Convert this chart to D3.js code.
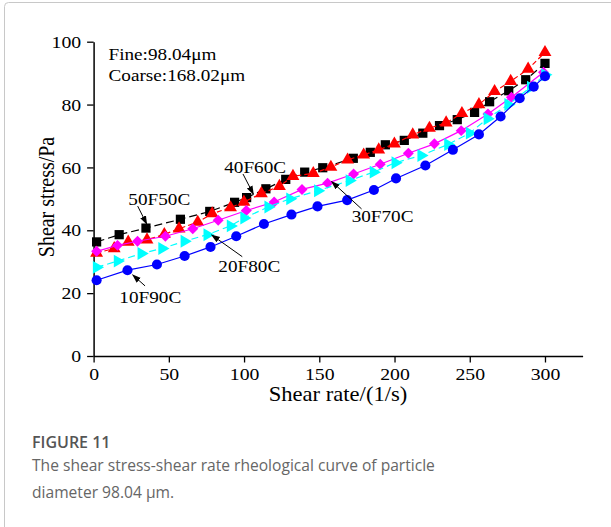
<!DOCTYPE html>
<html lang="en">
<head>
<meta charset="UTF-8">
<title>Shear stress - shear rate curve</title>
<script src="https://cdn.jsdelivr.net/npm/d3@7"></script>
<style>
  body{margin:0;background:#fff;}
  .serif{font-family:"Liberation Serif","Times New Roman",serif;fill:#000;}
  .caption{font-family:"Open Sans",sans-serif;fill:#666;}
</style>
</head>
<body>
<svg id="main" width="611" height="527"></svg>
<script>
    // data
    const shear50 = [2, 17, 34.8, 57.7, 77.2, 93.7, 101.7, 114.5, 127.7, 140.3, 152.3, 172.6, 183.9, 193.9, 206.5, 218.8, 229.9, 241.7, 253.2, 263.2, 275.9, 287.2, 300];
    const stress50 = [36.3, 38.6, 40.7, 43.5, 46.0, 48.9, 50.4, 53.2, 56.2, 58.5, 59.9, 62.9, 64.8, 67.2, 68.6, 70.9, 73.3, 75.2, 77.5, 80.9, 84.4, 87.9, 93.1];
    const shear40 = [2, 13.7, 23, 35.5, 47, 56.8, 69.2, 78.8, 91, 99.9, 111.5, 123.5, 132.5, 146, 157.7, 168.8, 179.5, 189.5, 199.9, 212.1, 223.2, 234.3, 244.8, 256.1, 266.5, 277.2, 288.8, 300];
    const stress40 = [32.8, 34.2, 36.3, 37.0, 38.7, 40.5, 42.6, 45.3, 47.2, 49.0, 51.7, 54.0, 57.2, 58.1, 60.1, 62.4, 64.0, 65.6, 67.5, 70.4, 72.5, 74.2, 77.2, 80.0, 84.2, 87.4, 91.3, 96.6];
    const shear30 = [2, 15.9, 29.2, 47.7, 65.9, 82.8, 101.5, 120, 138.5, 155.5, 172.8, 190.5, 209.2, 226.5, 244.3, 262.1, 277.7, 299];
    const stress30 = [33.3, 35.2, 36.5, 38.1, 40.5, 43.2, 46.3, 49.0, 53.0, 55.0, 57.9, 61.0, 64.5, 67.5, 71.7, 77.0, 82.3, 90.3];
    const shear20 = [2, 15.9, 31.7, 45.5, 60.3, 75.5, 91, 100, 116, 130.5, 149, 170, 186, 200.5, 217.7, 235.5, 249.9, 261.7, 275.5, 290.5, 300];
    const stress20 = [28.2, 30.2, 32.6, 34.2, 36.5, 38.6, 41.4, 43.9, 47.4, 50.0, 52.6, 55.8, 58.5, 61.5, 63.8, 67.3, 70.9, 75.5, 80.0, 85.5, 89.5];
    const shear10 = [2, 22.5, 42.1, 60.5, 77.7, 94.8, 113.2, 131.5, 148.8, 168.5, 186.3, 201, 220.5, 238.8, 256.1, 270.5, 283.2, 292.5, 300];
    const stress10 = [24.1, 27.3, 29.1, 31.8, 34.7, 38.1, 42.0, 45.0, 47.6, 49.6, 52.8, 56.5, 60.6, 65.6, 70.5, 76.2, 82.0, 85.7, 89.0];

    const seriesNames = ['50F50C', '40F60C', '30F70C', '20F80C', '10F90C'];
    const xTicks = [0, 50, 100, 150, 200, 250, 300];
    const yTicks = [0, 20, 40, 60, 80, 100];

    // label text position and arrow (from -> to), in data units
    const notes = [
        {t:'50F50C', x:23.1, y:48.0, ax:29.3, ay:47.7, bx:35.3, by:42.0},
        {t:'40F60C', x:86.8, y:58.3, ax:99.3, ay:57.9, bx:106.2, by:51.5},
        {t:'30F70C', x:171.5, y:42.7, ax:178.1, ay:46.8, bx:158.2, by:55.5},
        {t:'20F80C', x:82.9, y:26.8, ax:98.8, ay:31.6, bx:78.5, by:38.5},
        {t:'10F90C', x:17.1, y:16.8, ax:34.2, ay:22.3, bx:26.0, by:25.8}
    ];

    let svg = d3.select('svg#main');
    const sx = 1.13; // the figure's type is a little wide

    // page frame
    svg.append('rect').attr('x', 4.5).attr('y', 2.5).attr('width', 700).attr('height', 700)
        .attr('rx', 4).style('fill', 'none').style('stroke', '#c8c8c8');

    let xScale = d3.scaleLinear().domain([0, 325]).range([93.6, 582.6]);
    let yScale = d3.scaleLinear().domain([0, 100]).range([356, 41.7]);

    function txt(g, x, y, s, size, anchor){
        return g.append('text').attr('class', 'serif')
            .attr('transform', 'translate(' + x + ',' + y + ') scale(' + sx + ',1)')
            .attr('text-anchor', anchor || 'start')
            .style('font-size', size + 'px')
            .text(s);
    }

    // axes
    let xAxis = svg.append('g').attr('transform', 'translate(0,356)');
    xAxis.call(d3.axisBottom(xScale).tickValues(d3.range(25, 326, 50)).tickSize(3.5).tickSizeOuter(0).tickFormat(''));
    xAxis.call(d3.axisBottom(xScale).tickValues(xTicks).tickSize(6.5).tickSizeOuter(0));
    let yAxis = svg.append('g').attr('transform', 'translate(93.6,0)');
    yAxis.call(d3.axisLeft(yScale).tickValues(d3.range(10, 100, 20)).tickSize(3.5).tickSizeOuter(0).tickFormat(''));
    yAxis.call(d3.axisLeft(yScale).tickValues(yTicks).tickSize(6.5).tickSizeOuter(0));
    svg.selectAll('.domain').style('stroke', '#000').style('stroke-width', 1.5);
    svg.selectAll('.tick line').style('stroke', '#000').style('stroke-width', 1.3);
    xAxis.selectAll('text').attr('class', 'serif').attr('dy', 0).attr('y', 24)
        .attr('transform', 'scale(' + sx + ',1)').style('font-size', '17.5px').attr('font-family', null);
    yAxis.selectAll('text').attr('class', 'serif').attr('x', -11)
        .attr('transform', 'scale(' + sx + ',1)').style('font-size', '17.5px').attr('font-family', null);

    // axis titles
    txt(svg, 338, 401, 'Shear rate/(1/s)', 20, 'middle');
    svg.append('text').attr('class', 'serif')
        .attr('transform', 'translate(54,197) rotate(-90) scale(1,' + sx + ')')
        .attr('text-anchor', 'middle').style('font-size', '20px')
        .text('Shear stress/Pa');

    // series
    let series = [
        {x:shear50, y:stress50, color:'#000000', dash:'8,4', sym:d3.symbolSquare, size:85, rot:0},
        {x:shear40, y:stress40, color:'#ff0000', dash:'5,3', sym:d3.symbolTriangle, size:72, rot:0},
        {x:shear30, y:stress30, color:'#ff00ff', dash:null, sym:d3.symbolSquare, size:60, rot:45},
        {x:shear20, y:stress20, color:'#00ffff', dash:'7,4', sym:d3.symbolTriangle, size:72, rot:90},
        {x:shear10, y:stress10, color:'#0000ff', dash:null, sym:d3.symbolCircle, size:80, rot:0}
    ];
    let line = d3.line().x(function(d){return xScale(d[0]);}).y(function(d){return yScale(d[1]);});

    series.forEach(function(s, i){
        let pts = d3.zip(s.x, s.y);
        let g = svg.append('g').attr('class', 'series').attr('data-name', seriesNames[i]);
        g.append('path').datum(pts).attr('d', line)
            .style('fill', 'none').style('stroke', s.color).style('stroke-width', 1.2)
            .style('stroke-dasharray', s.dash);
        g.selectAll('path.mk').data(pts).enter().append('path').attr('class', 'mk')
            .attr('d', d3.symbol().type(s.sym).size(s.size))
            .attr('transform', function(d){return 'translate(' + xScale(d[0]) + ',' + yScale(d[1]) + ') rotate(' + s.rot + ')';})
            .style('fill', s.color);
    });

    // arrow labels
    svg.append('defs').append('marker').attr('id', 'arr')
        .attr('viewBox', '0 0 10 10').attr('refX', 9).attr('refY', 5)
        .attr('markerWidth', 9).attr('markerHeight', 9).attr('markerUnits', 'userSpaceOnUse')
        .attr('orient', 'auto')
        .append('path').attr('d', 'M0,1.5 L10,5 L0,8.5 Z').style('fill', '#000');

    notes.forEach(function(n){
        svg.append('line')
            .attr('x1', xScale(n.ax)).attr('y1', yScale(n.ay))
            .attr('x2', xScale(n.bx)).attr('y2', yScale(n.by))
            .style('stroke', '#000').style('stroke-width', 1)
            .attr('marker-end', 'url(#arr)');
        txt(svg, xScale(n.x), yScale(n.y), n.t, 17);
    });

    txt(svg, xScale(9.9), 60, 'Fine:98.04\u03bcm', 17);
    txt(svg, xScale(9.9), 80.7, 'Coarse:168.02\u03bcm', 17);

    // caption
    svg.append('text').attr('class', 'caption').attr('x', 32).attr('y', 448)
        .style('font-size', '16px').style('font-weight', 600).style('fill', '#555')
        .text('FIGURE 11');
    svg.append('text').attr('class', 'caption').attr('x', 32).attr('y', 471)
        .style('font-size', '15.6px')
        .text('The shear stress-shear rate rheological curve of particle');
    svg.append('text').attr('class', 'caption').attr('x', 32).attr('y', 498)
        .style('font-size', '15.6px')
        .text('diameter 98.04 \u03bcm.');
</script>
</body>
</html>
